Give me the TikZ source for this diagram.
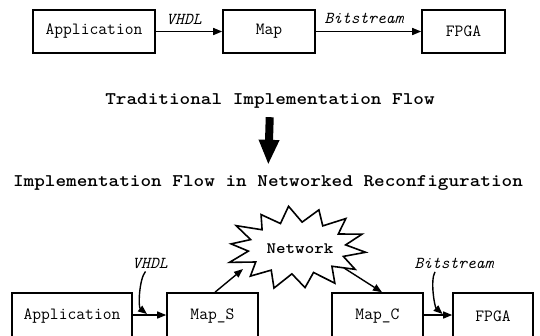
\documentclass[tikz,border=0pt]{standalone}
\usepackage{fontspec}
\setmonofont{Latin Modern Mono}
\newfontfamily\boldtt{lmmonolt10-bold.otf}[FakeStretch=1.14]
\usetikzlibrary{arrows.meta,calc}
\begin{document}
\begin{tikzpicture}[x=1pt,y=-1pt]
\tikzset{
  box/.style={draw, line width=1.6pt, inner sep=0pt, font=\ttfamily\fontsize{17.1}{20}\selectfont},
  arr/.style={line width=1.4pt, -{Triangle[length=9pt,width=7pt]}},
  lbl/.style={font=\ttfamily\itshape\fontsize{16.7}{19}\selectfont, inner sep=0pt},
  heading/.style={font=\boldtt\fontsize{17.75}{20}\selectfont, inner sep=0pt, text height=12pt, text depth=4pt},
  bigarr/.style={line width=8pt, -{Triangle[length=25pt,width=19pt]}},
  burst/.style={draw, line width=1.6pt, line join=miter, miter limit=20},
}
\useasboundingbox (0,0) rectangle (540,335);
\clip (0,0) rectangle (540,335);

% traditional flow
\node[box, minimum width=122pt, minimum height=43pt] (app1) at (94,31.5) {Application};
\node[box, minimum width=92pt, minimum height=43pt] (map1) at (269,31.5) {Map};
\node[box, minimum width=83pt, minimum height=43pt] (fpga1) at (463.5,31.5) {FPGA};
\draw[arr] (app1) -- (map1);
\draw[arr] (map1) -- (fpga1);
\node[lbl] (vhdl1) at (184,19) {VHDL};
\node[lbl] (bit1) at (364,18.5) {Bitstream};

% headings
\node[heading] (t1) at (270,100) {Traditional Implementation Flow};
\node[heading] (t2) at (268,182) {Implementation Flow in Networked Reconfiguration};
\draw[bigarr, shorten <=9pt, shorten >=9pt] (t1.south) -- (t2.north);

% networked flow
\node[box, minimum width=120pt, minimum height=46pt] (app2) at (72,316) {Application};
\node[box, minimum width=91pt, minimum height=46pt] (maps) at (212.5,316) {Map\_S};
\node[box, minimum width=91pt, minimum height=46pt] (mapc) at (377.5,316) {Map\_C};
\node[box, minimum width=80pt, minimum height=46pt] (fpga2) at (493,316) {FPGA};

% network cloud
\draw[burst] plot[variable=\k, samples at={0,...,27}]
  ({297+(mod(\k,2)==0 ? 69*(1+0.04*sin(\k*97)) : 49)*cos(\k*12.857+6)},
   {248+(mod(\k,2)==0 ? 41*(1+0.04*sin(\k*97)) : 26)*sin(\k*12.857+6)}) -- cycle;
\node[font=\boldtt\fontsize{15.9}{18}\selectfont, inner sep=0pt] (net) at (300,249) {Network};

\draw[arr] ([xshift=2.5pt]maps.north) -- ($(net.center)+(-57,20)$);
\draw[arr] ($(net.center)+(44,19)$) -- ([xshift=4.5pt]mapc.north);

\draw[arr] (app2.east |- 0,315) -- (maps.west |- 0,315);
\draw[arr] (mapc.east |- 0,315) -- (fpga2.west |- 0,315);

\node[lbl] (vhdl2) at (150,263) {VHDL};
\node[lbl] (bit2) at (454,263) {Bitstream};
\coordinate (vend) at ($(app2.east |- 0,315)!0.46!(maps.west |- 0,315)$);
\coordinate (bend) at ($(mapc.east |- 0,315)!0.7!(fpga2.west |- 0,315)$);
\draw[arr, shorten <=4pt, shorten >=1.5pt] ([xshift=-2pt]vhdl2.south) .. controls +(-9,11) and +(-10,-8) .. (vend);
\draw[arr, shorten <=4pt, shorten >=1.5pt] ([xshift=-17pt]bit2.south) .. controls +(-7,12) and +(-9,-8) .. (bend);
\end{tikzpicture}
\end{document}
